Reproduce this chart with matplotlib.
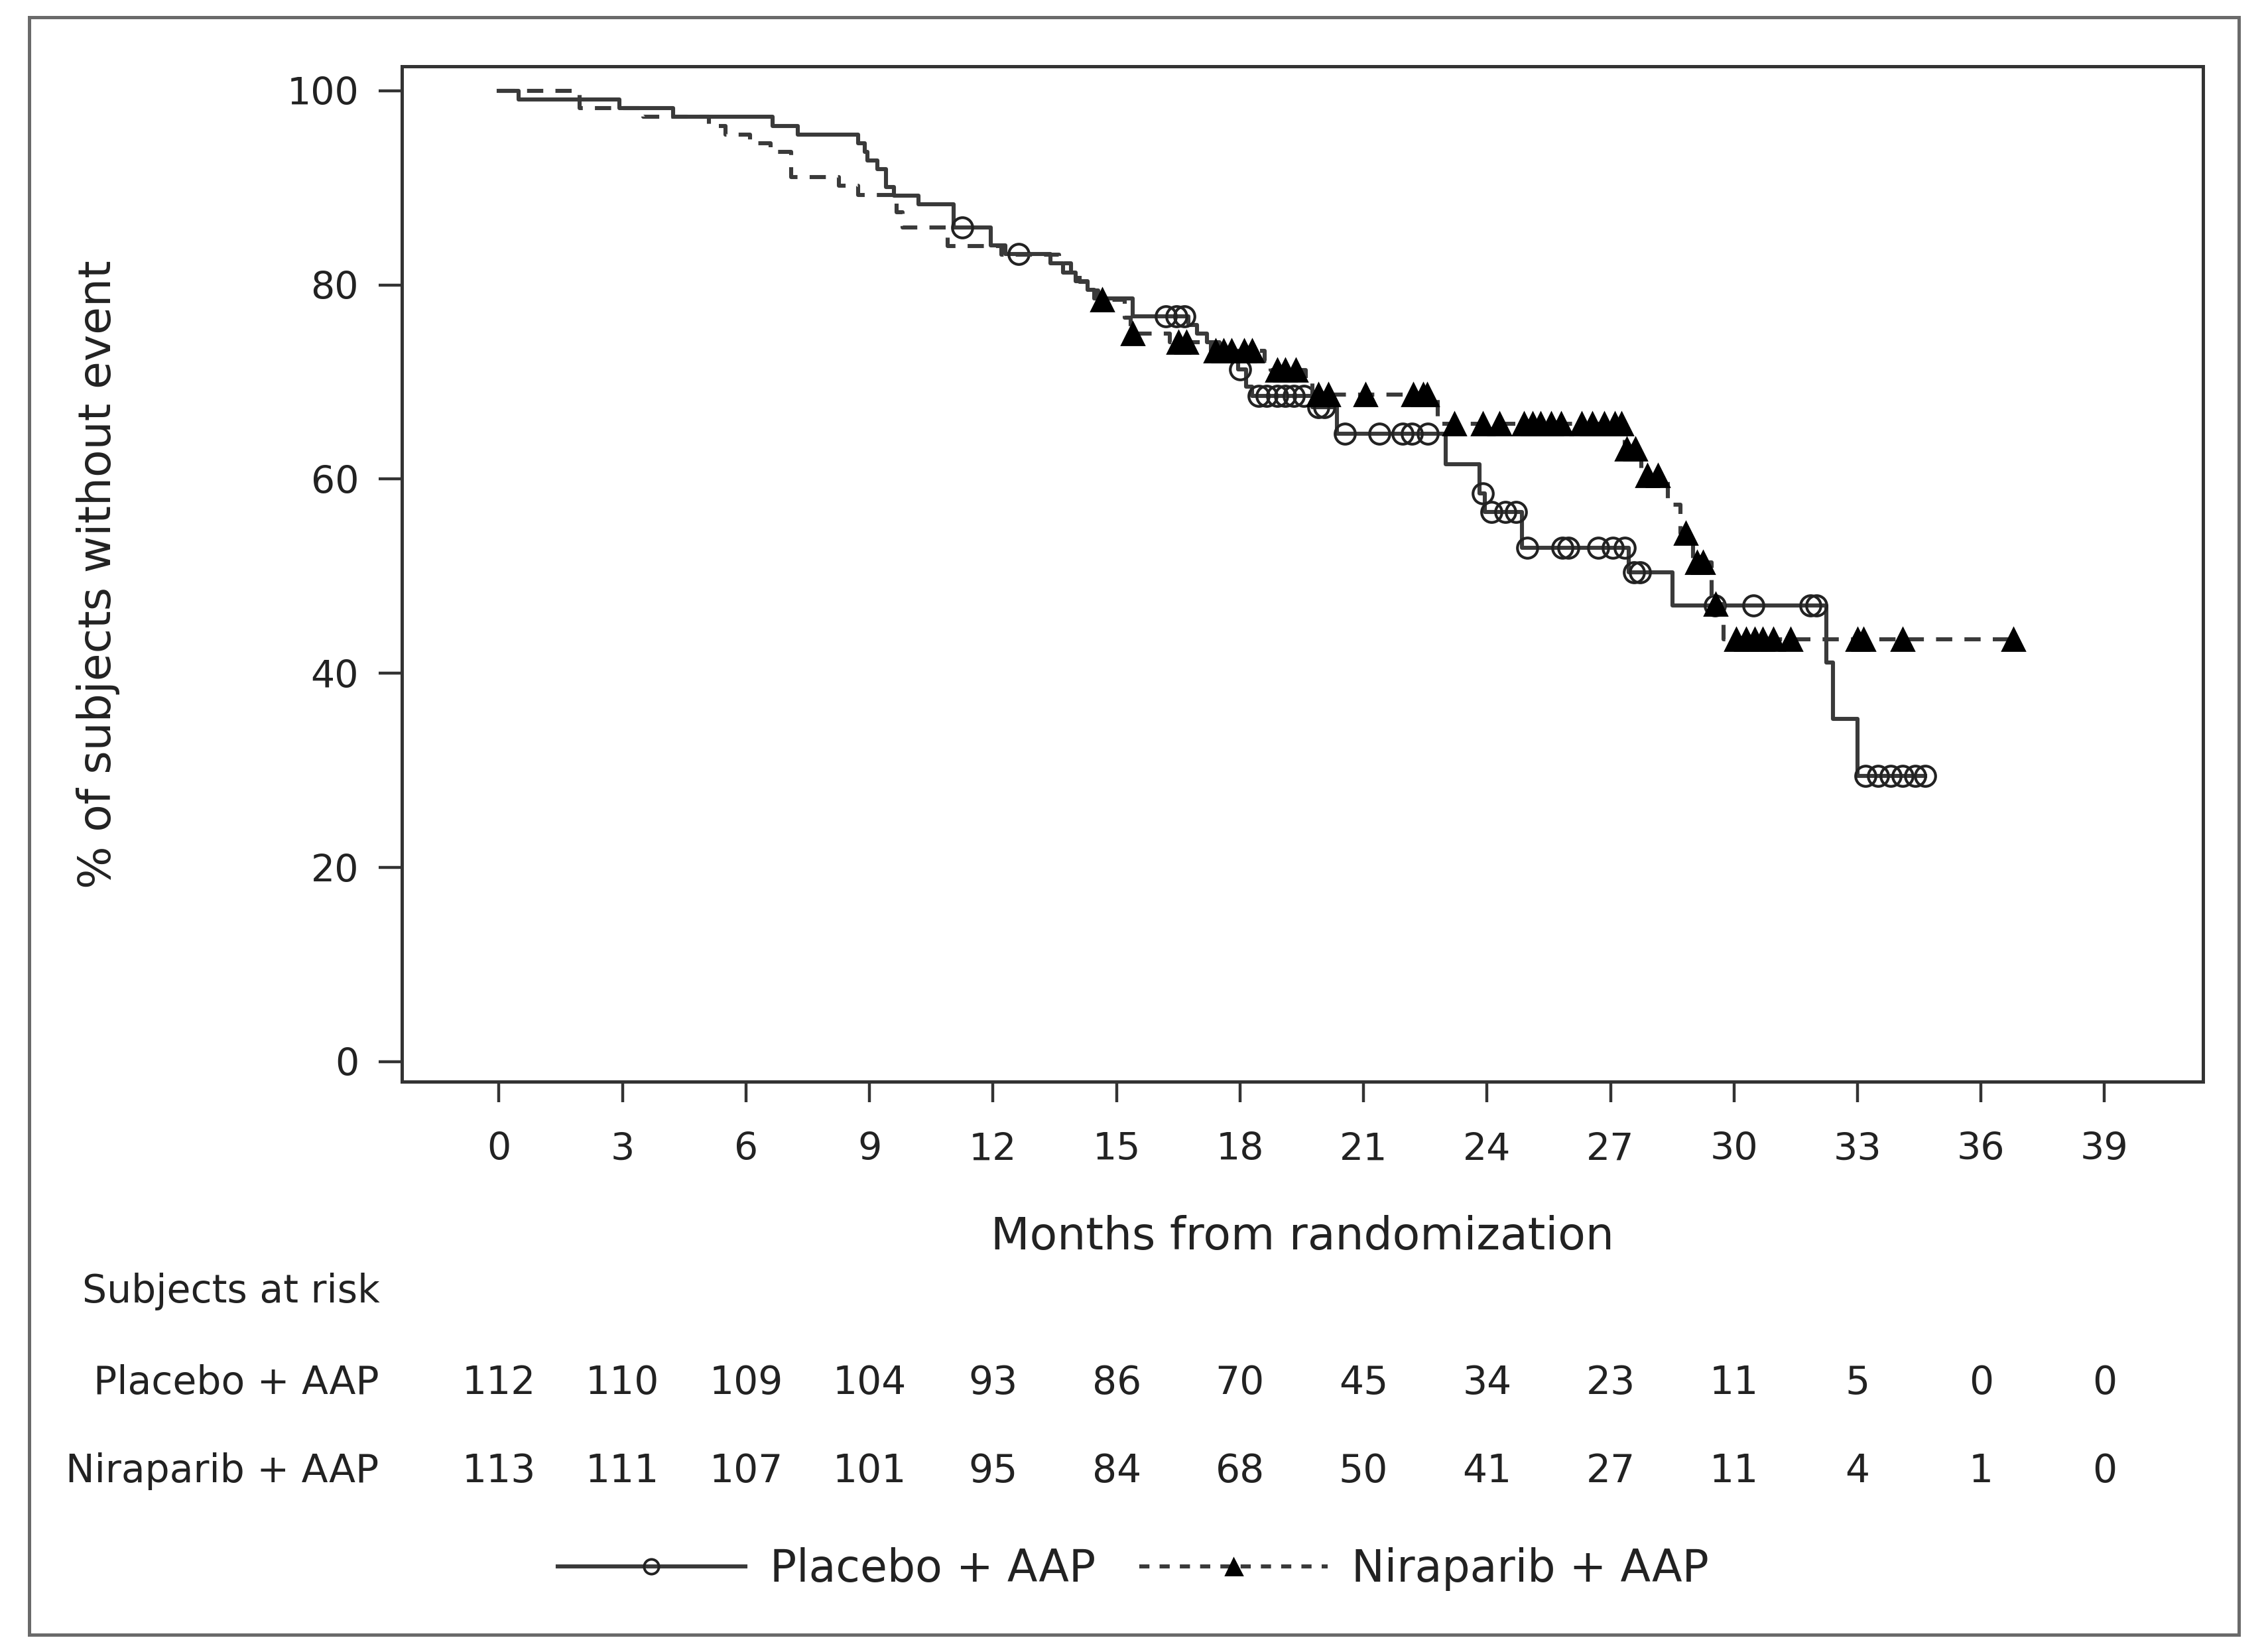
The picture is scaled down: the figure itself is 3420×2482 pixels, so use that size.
import numpy as np
import matplotlib
matplotlib.use("Agg")
import matplotlib.pyplot as plt
from matplotlib.lines import Line2D
from matplotlib.patches import Rectangle
import matplotlib.transforms as mtransforms

plt.rcParams['font.family'] = ['DejaVu Sans']

# ---- data ----
# Placebo + AAP: event times (months) and KM level after each drop (%)
plac_t = [0.47, 2.92, 4.23, 6.65, 7.26, 8.73, 8.88, 8.95, 9.19, 9.40, 9.60, 10.19,
          11.05, 11.95, 12.3, 13.4, 13.7, 14.0, 14.3, 14.45, 15.4, 16.75, 16.95,
          17.2, 17.5, 17.75, 17.95, 18.15, 18.3, 19.75, 20.35, 23.0, 23.82, 23.95,
          24.85, 27.45, 28.5, 32.24, 32.4, 33.0]
plac_s = [99.1, 98.2, 97.3, 96.4, 95.5, 94.6, 93.7, 92.8, 91.9, 90.1, 89.2, 88.3,
          85.9, 84.1, 83.2, 82.2, 81.3, 80.4, 79.5, 78.6, 76.8, 75.9, 75.0,
          74.1, 73.2, 72.2, 71.3, 69.5, 68.6, 67.4, 64.7, 61.5, 58.5, 56.6,
          52.9, 50.4, 47.0, 41.1, 35.3, 29.4]
plac_end = 34.65
plac_cens = [11.25, 12.62, 16.2, 16.45, 16.65, 18.0, 18.45, 18.65, 18.9, 19.1, 19.3,
             19.55, 19.9, 20.05, 20.55, 21.38, 21.95, 22.17, 22.56, 23.9, 24.1, 24.45,
             24.7, 24.97, 25.83, 25.98, 26.7, 27.06, 27.35, 27.57, 27.72, 29.53,
             30.47, 31.85, 32.0, 33.2, 33.5, 33.8, 34.1, 34.4, 34.65]

# Niraparib + AAP
nira_t = [1.95, 3.5, 5.1, 5.5, 6.1, 6.6, 7.1, 8.25, 8.72, 9.65, 9.8, 10.9,
          12.2, 13.6, 13.9, 14.1, 14.3, 14.55, 15.2, 15.35, 16.3, 17.3, 18.6,
          18.75, 19.6, 19.75, 22.8, 27.35, 27.75, 28.4, 28.7, 29.0, 29.45, 29.75]
nira_s = [98.2, 97.3, 96.4, 95.5, 94.6, 93.7, 91.1, 90.2, 89.3, 87.5, 85.9, 84.0,
          83.1, 82.2, 81.2, 80.3, 79.4, 78.5, 76.6, 75.0, 74.1, 73.2, 72.2,
          71.2, 70.1, 68.7, 65.7, 63.1, 60.4, 57.4, 54.4, 51.4, 47.1, 43.5]
nira_end = 36.8
nira_cens = [14.65, 15.4, 16.5, 16.7, 17.4, 17.6, 17.8, 18.1, 18.3, 18.9, 19.1,
             19.35, 19.9, 20.15, 21.05, 22.2, 22.45, 22.55, 23.2, 23.9, 24.3,
             24.9, 25.1, 25.3, 25.55, 25.8, 26.3, 26.55, 26.84, 27.1, 27.27,
             27.4, 27.6, 27.9, 28.15, 28.82, 29.1, 29.25, 29.55, 30.05, 30.3,
             30.5, 30.7, 30.95, 31.37, 33.0, 33.15, 34.1, 36.78]

risk_months = [0, 3, 6, 9, 12, 15, 18, 21, 24, 27, 30, 33, 36, 39]
risk_plac = [112, 110, 109, 104, 93, 86, 70, 45, 34, 23, 11, 5, 0, 0]
risk_nira = [113, 111, 107, 101, 95, 84, 68, 50, 41, 27, 11, 4, 1, 0]
groups = ['Placebo + AAP', 'Niraparib + AAP']


def km_path(ev_t, ev_s, t_end):
    t = np.concatenate([[0.0], ev_t, [t_end]])
    s = np.concatenate([[100.0], ev_s, [ev_s[-1]]])
    return t, s


def level_at(ev_t, ev_s, times):
    idx = np.searchsorted(ev_t, times, side='right')
    lv = np.concatenate([[100.0], ev_s])
    return lv[idx]


line_col = '#3a3a3a'
txt_col = '#222222'
lw = 2.2

fig = plt.figure(figsize=(17.1, 12.41), dpi=200)
ax = fig.add_axes([0.1773, 0.3427, 0.9713 - 0.1773, 0.9596 - 0.3427])

t, s = km_path(plac_t, plac_s, plac_end)
ax.step(t, s, where='post', color=line_col, lw=lw)
ax.plot(plac_cens, level_at(plac_t, plac_s, plac_cens), ls='none', marker='o',
        ms=11, mfc='none', mec='#222222', mew=1.5)

t, s = km_path(nira_t, nira_s, nira_end)
ax.step(t, s, where='post', color=line_col, lw=lw, ls=(0, (4, 3)))
ax.plot(nira_cens, level_at(nira_t, nira_s, nira_cens), ls='none', marker='^',
        ms=12, mfc='black', mec='black')

ax.set_xlim(-2.354, 41.39)
ax.set_ylim(-2.09, 102.5)
ax.set_xticks(risk_months)
ax.set_yticks([0, 20, 40, 60, 80, 100])
ax.tick_params(axis='both', labelsize=20.5, colors=txt_col, width=1.6, color='#333333')
ax.tick_params(axis='y', length=12.5, pad=11)
ax.tick_params(axis='x', length=11, pad=16)
for sp in ax.spines.values():
    sp.set_linewidth(1.8)
    sp.set_color('#333333')

fig.text(0.5743, 0.2487, 'Months from randomization', ha='center', va='center',
         fontsize=24.5, color=txt_col)
fig.text(0.0434, 0.651, '% of subjects without event', ha='center', va='center',
         rotation=90, fontsize=24.5, color=txt_col)

# risk table
fig.text(0.0364, 0.2153, 'Subjects at risk', ha='left', va='center', fontsize=21, color=txt_col)
trans = mtransforms.blended_transform_factory(ax.transData, fig.transFigure)
for name, counts, yy in zip(groups, [risk_plac, risk_nira], [0.1599, 0.1063]):
    fig.text(0.1671, yy, name, ha='right', va='center', fontsize=21, color=txt_col)
    for m, n in zip(risk_months, counts):
        ax.text(m, yy, str(n), transform=trans, ha='center', va='center',
                fontsize=21, color=txt_col, clip_on=False)

# legend
h1 = Line2D([], [], color=line_col, lw=lw, marker='o', ms=8, mfc='none', mec='#222222',
            mew=1.4)
h2 = Line2D([], [], color=line_col, lw=lw, ls=(0, (2.5, 2.5)), marker='^', ms=9,
            mfc='black', mec='black')
fig.legend([h1, h2], groups, loc='center', bbox_to_anchor=(0.4997, 0.0466), ncol=2,
           frameon=False, fontsize=24, handlelength=4.25, handletextpad=0.55,
           columnspacing=1.0, labelcolor=txt_col)

# outer border
fig.add_artist(Rectangle((0.01276, 0.00703), 0.9872 - 0.01276, 0.9895 - 0.00703,
                         transform=fig.transFigure, fill=False, lw=1.8, ec='#6a6a6a'))

fig.savefig('out.png', dpi=200)
